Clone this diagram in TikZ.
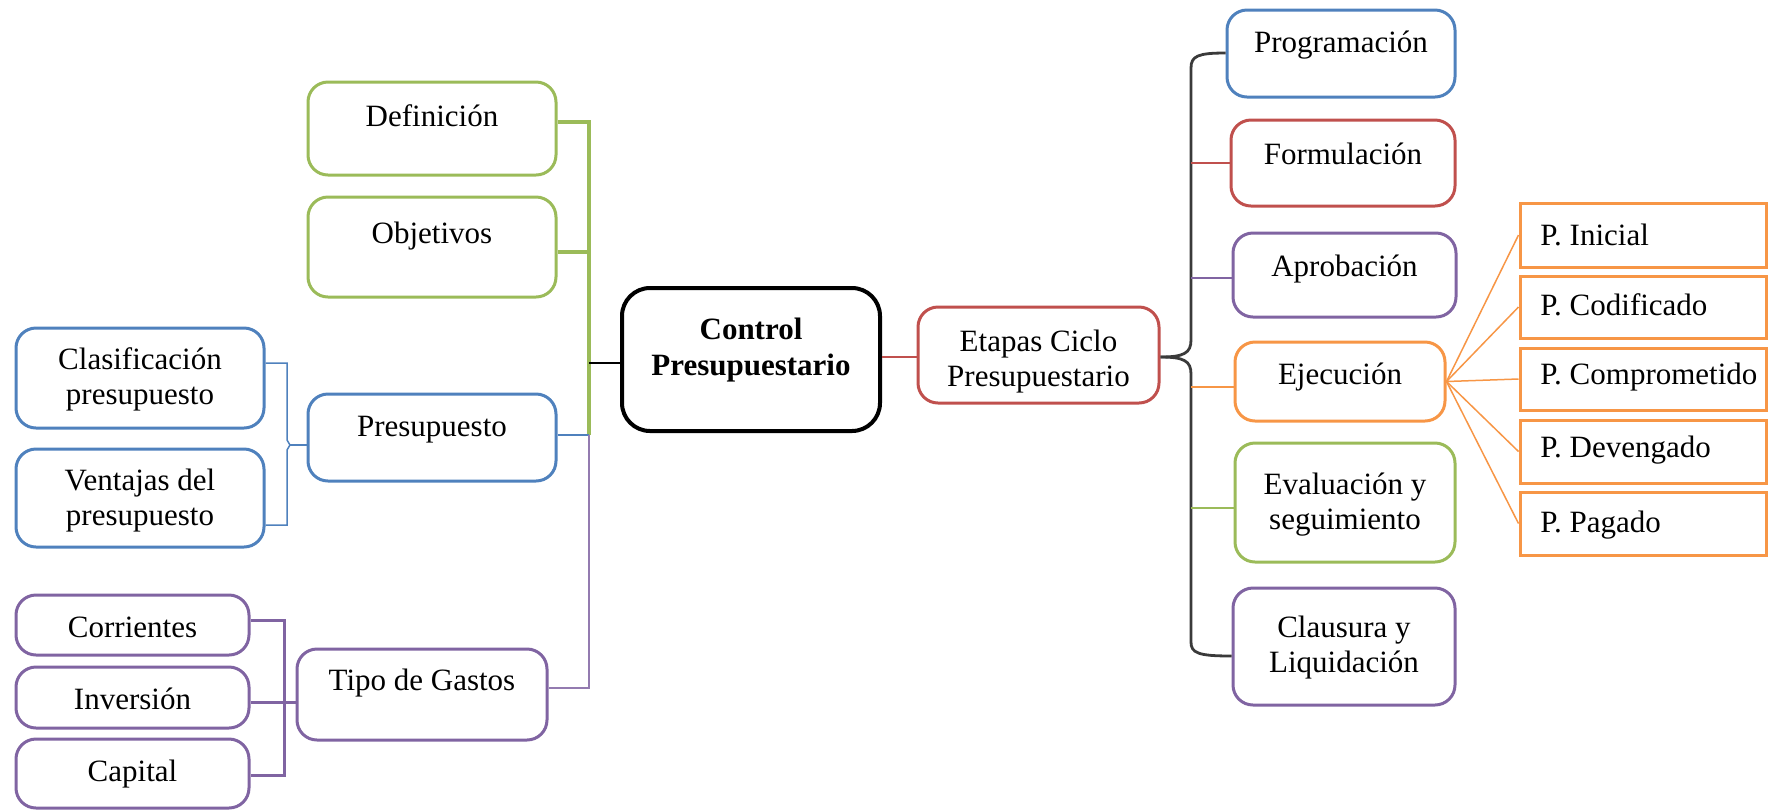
\documentclass[tikz,border=0pt]{standalone}
\usepackage{fontspec}
\setmainfont{Liberation Serif}
\usetikzlibrary{calc}
\definecolor{ogreen}{HTML}{9BBB59}
\definecolor{oblue}{HTML}{4F81BD}
\definecolor{ored}{HTML}{C0504D}
\definecolor{opurple}{HTML}{8064A2}
\definecolor{oorange}{HTML}{F79646}
\definecolor{braceink}{HTML}{3A3A3A}
\begin{document}
\begin{tikzpicture}[x=0.5pt,y=-0.5pt,
  font=\fontsize{15.5}{17.5}\selectfont,
  box/.style={draw, rounded corners=10pt, line width=1.5pt, fill=white, inner sep=0pt},
  gbox/.style={box, draw=ogreen},
  bbox/.style={box, draw=oblue},
  rbox/.style={box, draw=ored},
  vbox/.style={box, draw=opurple},
  obox/.style={box, draw=oorange},
  pbox/.style={draw=oorange, line width=1.5pt, fill=white, inner sep=0pt, minimum width=123pt},
  mainbox/.style={draw=black, rounded corners=14pt, line width=2pt, fill=white, inner sep=0pt},
  txt/.style={inner sep=0pt, align=center},
  ptxt/.style={inner sep=0pt, anchor=west},
  thin/.style={line width=0.75pt},
  gline/.style={draw=ogreen, line width=1.6pt},
  vthick/.style={draw=opurple, line width=1.5pt},
  kbrace/.style={draw=braceink, line width=1.4pt}
]
\useasboundingbox (0,0) rectangle (1769,811);

% ---------- left branch ----------
\node[gbox, minimum width=124pt, minimum height=46.5pt] (def) at (432,128.5) {};
\node[txt] (tdef) at (432,116) {Definición};
\node[gbox, minimum width=124pt, minimum height=50pt] (obj) at (432,247) {};
\node[txt] (tobj) at (432,236) {Objetivos};

\node[bbox, minimum width=124pt, minimum height=50pt] (clas) at (140,378) {};
\node[txt] (tclas) at (140,379) {Clasificación\\presupuesto};
\node[bbox, minimum width=124pt, minimum height=49pt] (vent) at (140,498) {};
\node[txt] (tvent) at (140,501) {Ventajas del\\presupuesto};
\node[bbox, minimum width=124pt, minimum height=43.5pt] (pres) at (432,437.5) {};
\node[txt] (tpres) at (432,430) {Presupuesto};

\node[vbox, minimum width=116.5pt, minimum height=30pt] (corr) at (132.5,625) {};
\node[txt] (tcorr) at (132.5,627) {Corrientes};
\node[vbox, minimum width=116.5pt, minimum height=30.5pt] (inv) at (132.5,697.5) {};
\node[txt] (tinv) at (132.5,699) {Inversión};
\node[vbox, minimum width=116.5pt, minimum height=34.5pt] (cap) at (132.5,773.5) {};
\node[txt] (tcap) at (132.5,774) {Capital};
\node[vbox, minimum width=125pt, minimum height=45.5pt] (tipo) at (422,694.5) {};
\node[txt] (ttipo) at (422,683) {Tipo de Gastos};

% ---------- centre ----------
\node[mainbox, minimum width=129pt, minimum height=71.5pt] (ctrl) at (751,359.5) {};
\node[txt, font=\fontsize{15.5}{18}\selectfont\bfseries] (tctrl) at (751,350) {Control\\Presupuestario};
\node[rbox, minimum width=120.5pt, minimum height=48pt] (etap) at (1038.5,355) {};
\node[txt] (tetap) at (1038.5,362) {Etapas Ciclo\\Presupuestario};

% ---------- stages ----------
\node[bbox, minimum width=114pt, minimum height=43.5pt] (prog) at (1341,53.5) {};
\node[txt] (tprog) at (1341,45) {Programación};
\node[rbox, minimum width=112pt, minimum height=43pt] (form) at (1343,163) {};
\node[txt] (tform) at (1343,154) {Formulación};
\node[vbox, minimum width=111.5pt, minimum height=42pt] (apro) at (1344.5,275) {};
\node[txt] (tapro) at (1344.5,269) {Aprobación};
\node[obox, minimum width=105pt, minimum height=39.5pt] (ejec) at (1340,381.5) {};
\node[txt] (tejec) at (1340,377) {Ejecución};
\node[gbox, minimum width=110pt, minimum height=59.5pt] (eval) at (1345,502.5) {};
\node[txt] (teval) at (1345,505) {Evaluación y\\seguimiento};
\node[vbox, minimum width=111pt, minimum height=58.5pt] (clau) at (1344,646.5) {};
\node[txt] (tclau) at (1344,648) {Clausura y\\Liquidación};

% ---------- execution detail ----------
\node[pbox, minimum height=32pt] (pini) at (1643,235) {};
\node[ptxt] (tpini) at (1540,235) {P. Inicial};
\node[pbox, minimum height=31pt] (pcod) at (1643,307) {};
\node[ptxt] (tpcod) at (1540,305) {P. Codificado};
\node[pbox, minimum height=31pt] (pcom) at (1643,379) {};
\node[ptxt] (tpcom) at (1540,377) {P. Comprometido};
\node[pbox, minimum height=31.5pt] (pdev) at (1643,451.5) {};
\node[ptxt] (tpdev) at (1540,450) {P. Devengado};
\node[pbox, minimum height=31.5pt] (ppag) at (1643,523.5) {};
\node[ptxt] (tppag) at (1540,525) {P. Pagado};

% ---------- junction points ----------
\coordinate (gtop) at (589,122);
\coordinate (gobj) at (589,252);
\coordinate (gctl) at (589,363);
\coordinate (gpres) at (589,435);
\coordinate (ptip) at (589,688);
\coordinate (bb1) at (287,363);
\coordinate (bbm) at (290,445);
\coordinate (bb2) at (287,525);
\coordinate (pb1) at (284,620);
\coordinate (pbm) at (284,702);
\coordinate (pb2) at (284,775);
\coordinate (cmid) at (0,357);
\coordinate (sprog) at (1191,53);
\coordinate (sform) at (1191,163);
\coordinate (sapro) at (1191,278);
\coordinate (sejec) at (1191,387);
\coordinate (seval) at (1191,508);
\coordinate (sclau) at (1191,656);

% ---------- left connectors ----------
\draw[gline] (def.east |- gtop) -- (gtop) -- (gpres);
\draw[gline] (obj.east |- gobj) -- (gobj);
\draw[thin, black, line width=1pt] (gctl) -- (ctrl.west |- gctl);
\draw[thin, oblue] (pres.east |- gpres) -- (gpres);
\draw[thin, opurple!85] (gpres) -- (ptip) -- (tipo.east |- ptip);

\draw[thin, oblue] (clas.east |- bb1) -- (bb1) -- (287,440) -- (bbm) -- (287,450) -- (bb2) -- (vent.east |- bb2);
\draw[thin, oblue] (bbm) -- (pres.west |- bbm);

\draw[vthick] (corr.east |- pb1) -- (pb1) -- (pb2) -- (cap.east |- pb2);
\draw[vthick] (inv.east |- pbm) -- (tipo.west |- pbm);

% ---------- centre connectors ----------
\draw[thin, ored] (ctrl.east |- cmid) -- (etap.west |- cmid);

\draw[kbrace] (etap.east |- cmid) .. controls (1184,357) and (1191,353) .. (1191,340)
  -- (1191,68) .. controls (1191,56) and (1198,53) .. (prog.west |- sprog);
\draw[kbrace] (etap.east |- cmid) .. controls (1184,357) and (1191,361) .. (1191,374)
  -- (1191,642) .. controls (1191,653) and (1198,656) .. (clau.west |- sclau);

\draw[thin, ored] (sform) -- (form.west |- sform);
\draw[thin, opurple] (sapro) -- (apro.west |- sapro);
\draw[thin, oorange] (sejec) -- (ejec.west |- sejec);
\draw[thin, ogreen] (seval) -- (eval.west |- seval);

% ---------- execution fan ----------
\foreach \p in {pini,pcod,pcom,pdev,ppag}
  \draw[thin, oorange] (ejec.east) -- (\p.west);
\end{tikzpicture}
\end{document}
